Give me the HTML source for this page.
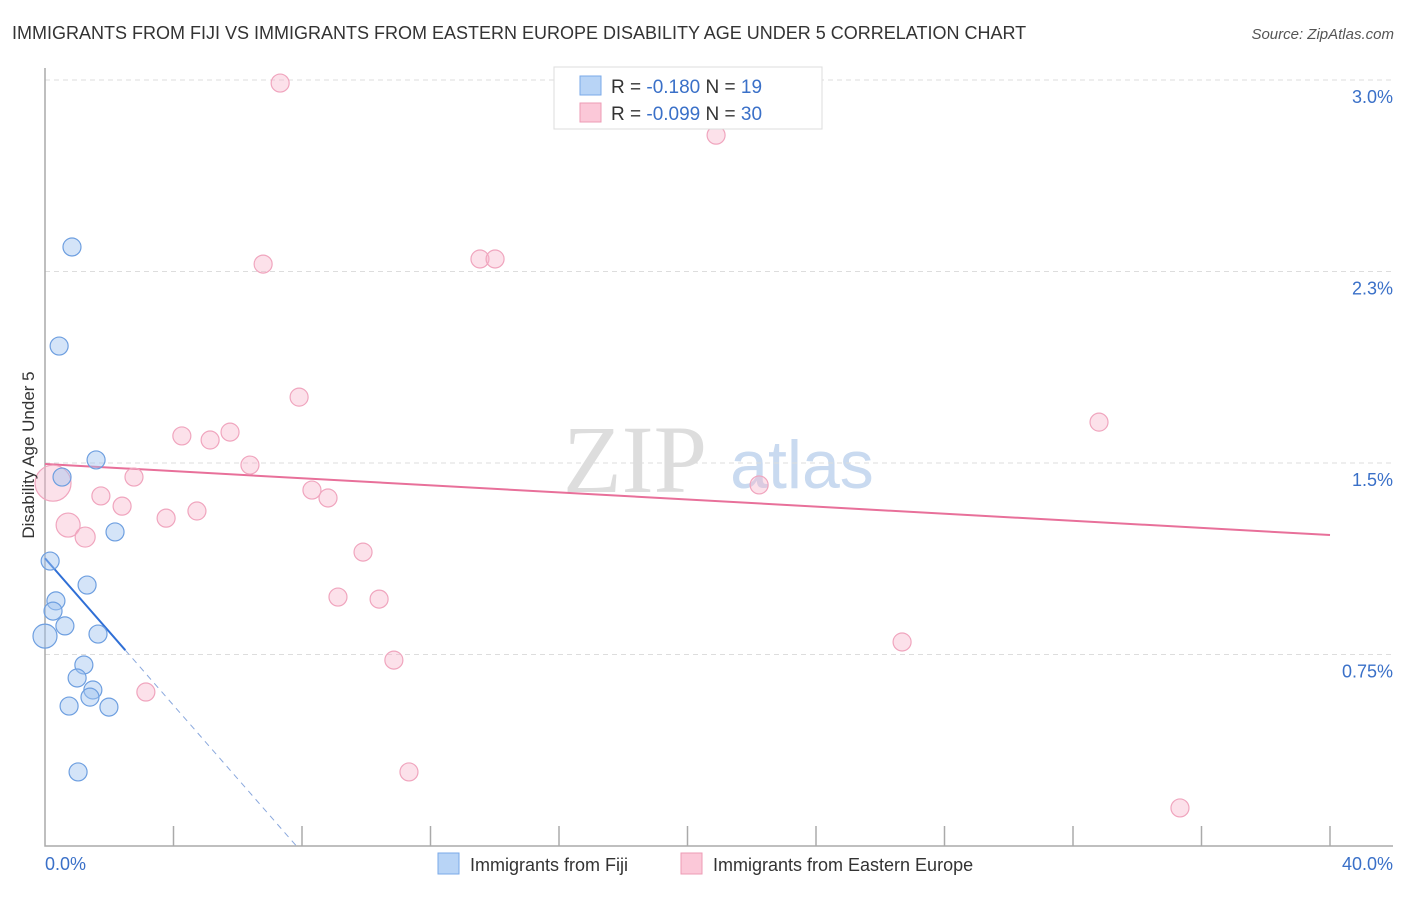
<!DOCTYPE html>
<html><head><meta charset="utf-8"><style>
body{margin:0;background:#fff;font-family:"Liberation Sans",sans-serif}
</style></head><body>
<svg id="chart" width="1406" height="892" xmlns="http://www.w3.org/2000/svg" font-family="Liberation Sans, sans-serif">
<text x="12" y="39" font-size="18" fill="#333">IMMIGRANTS FROM FIJI VS IMMIGRANTS FROM EASTERN EUROPE DISABILITY AGE UNDER 5 CORRELATION CHART</text>
<text x="1394" y="39" font-size="15" fill="#555" font-style="italic" text-anchor="end">Source: ZipAtlas.com</text>
<g>
<text x="635" y="492" font-size="96" fill="#ddd" font-family="Liberation Serif, serif" text-anchor="middle">ZIP</text>
<text x="802" y="488" font-size="68" fill="#c9daf0" text-anchor="middle">atlas</text>
</g>
<g id="grid"></g>
<g id="axes"></g>
<g id="trends"></g>
<g id="points"></g>
<text transform="translate(34,455) rotate(-90)" font-size="17" fill="#333" text-anchor="middle">Disability Age Under 5</text>
<g>
<rect x="554" y="67" width="268" height="62" fill="#fff" stroke="#ddd"/>
<rect x="580" y="76" width="21" height="19" fill="#b8d4f6" stroke="#7aaae8"/>
<rect x="580" y="103" width="21" height="19" fill="#fbc8d8" stroke="#ee9bb5"/>
<text x="611" y="93" font-size="19" fill="#333">R = <tspan fill="#3a70c8"> -0.180</tspan>   N = <tspan fill="#3a70c8"> 19</tspan></text>
<text x="611" y="120" font-size="19" fill="#333">R = <tspan fill="#3a70c8">-0.099</tspan>   N = <tspan fill="#3a70c8">30</tspan></text>
</g>
<g>
<rect x="438" y="853" width="21" height="21" fill="#b8d4f6" stroke="#7aaae8"/>
<text x="470" y="871" font-size="18" fill="#333">Immigrants from Fiji</text>
<rect x="681" y="853" width="21" height="21" fill="#fbc8d8" stroke="#ee9bb5"/>
<text x="713" y="871" font-size="18" fill="#333">Immigrants from Eastern Europe</text>
</g>
</svg>
<script>
const yTicks=[0.75,1.5,2.25,3.0];
const yTickLabels=["0.75%","1.5%","2.3%","3.0%"];
const xTicks=[0,4,8,12,16,20,24,28,32,36,40];
const fijiX=[0.84,0.44,1.59,0.53,2.18,0.16,1.31,0.34,0.25,0.62,0.0,1.65,1.21,1.0,1.49,1.40,0.75,1.99,1.03];
const fijiY=[2.346,1.958,1.512,1.445,1.230,1.116,1.022,0.960,0.920,0.862,0.822,0.830,0.709,0.658,0.611,0.583,0.548,0.544,0.290];
const fijiR=[9,9,9,9,9,9,9,9,9,9,12,9,9,9,9,9,9,9,9];
const eeX=[7.32,20.89,6.79,13.54,14.01,7.91,32.81,4.26,5.14,5.76,6.38,2.77,0.25,1.74,8.31,8.81,2.40,3.77,4.73,0.72,1.25,9.90,9.12,10.40,26.68,10.86,3.14,22.23,11.33,35.33];
const eeY=[2.988,2.784,2.279,2.299,2.299,1.758,1.660,1.606,1.590,1.621,1.492,1.445,1.421,1.371,1.394,1.363,1.331,1.284,1.312,1.257,1.210,1.151,0.975,0.967,0.799,0.728,0.603,1.414,0.290,0.149];
const eeR=[9,9,9,9,9,9,9,9,9,9,9,9,18,9,9,9,9,9,9,12,10,9,9,9,9,9,9,9,9,9];
const fijiTrend=[1.127,-0.144];
const eeTrend=[1.496,-0.00695];
const NS="http://www.w3.org/2000/svg";
const X=v=>45+v/40*1285, Y=v=>846-v/0.75*191.5;
function mk(p,t,a){const e=document.createElementNS(NS,t);for(const k in a)e.setAttribute(k,a[k]);document.getElementById(p).appendChild(e);return e;}
yTicks.forEach((t,i)=>{
 let l=mk('grid','line',{x1:45,x2:1393,y1:Y(t),y2:Y(t),stroke:'#ddd','stroke-dasharray':'5,4'});
 
 
 let tx=mk('grid','text',{x:1393,y:Y(t)+23,'font-size':18,fill:'#3a70c8','text-anchor':'end'});
 tx.textContent=yTickLabels[i];
 
 
});
let ax=mk('axes','path',{d:'M45,68V846H1393',fill:'none',stroke:'#aaa','stroke-width':1.5});


xTicks.forEach(t=>{if(t===0)return;
 let l=mk('axes','line',{x1:X(t),x2:X(t),y1:826,y2:846,stroke:'#aaa','stroke-width':1.5});
 
 
});
[[0,'0.0%','start',45],[40,'40.0%','end',1393]].forEach(d=>{
 let tx=mk('axes','text',{x:d[3],y:870,'font-size':18,fill:'#3a70c8','text-anchor':d[2]});
 tx.textContent=d[1];
 
 
});
// trends
const fx0=2.5, fxEnd=-fijiTrend[0]/fijiTrend[1];
let t1=mk('trends','line',{x1:X(0),y1:Y(fijiTrend[0]),x2:X(fx0),y2:Y(fijiTrend[0]+fijiTrend[1]*fx0),stroke:'#2f6fd6','stroke-width':2});


let t2=mk('trends','line',{x1:X(fx0),y1:Y(fijiTrend[0]+fijiTrend[1]*fx0),x2:X(fxEnd),y2:Y(0),stroke:'#8aa8dd','stroke-width':1,'stroke-dasharray':'6,5'});


let t3=mk('trends','line',{x1:X(0),y1:Y(eeTrend[0]),x2:X(40),y2:Y(eeTrend[0]+eeTrend[1]*40),stroke:'#e8709a','stroke-width':2});


eeX.forEach((x,i)=>{
 let c=mk('points','circle',{cx:X(x),cy:Y(eeY[i]),r:eeR[i],fill:'rgba(248,180,202,0.4)',stroke:'#f0a5be','stroke-width':1.2});
 
 
});
fijiX.forEach((x,i)=>{
 let c=mk('points','circle',{cx:X(x),cy:Y(fijiY[i]),r:fijiR[i],fill:'rgba(160,195,240,0.45)',stroke:'#6e9fe0','stroke-width':1.2});
 
 
});
</script>
</body></html>
